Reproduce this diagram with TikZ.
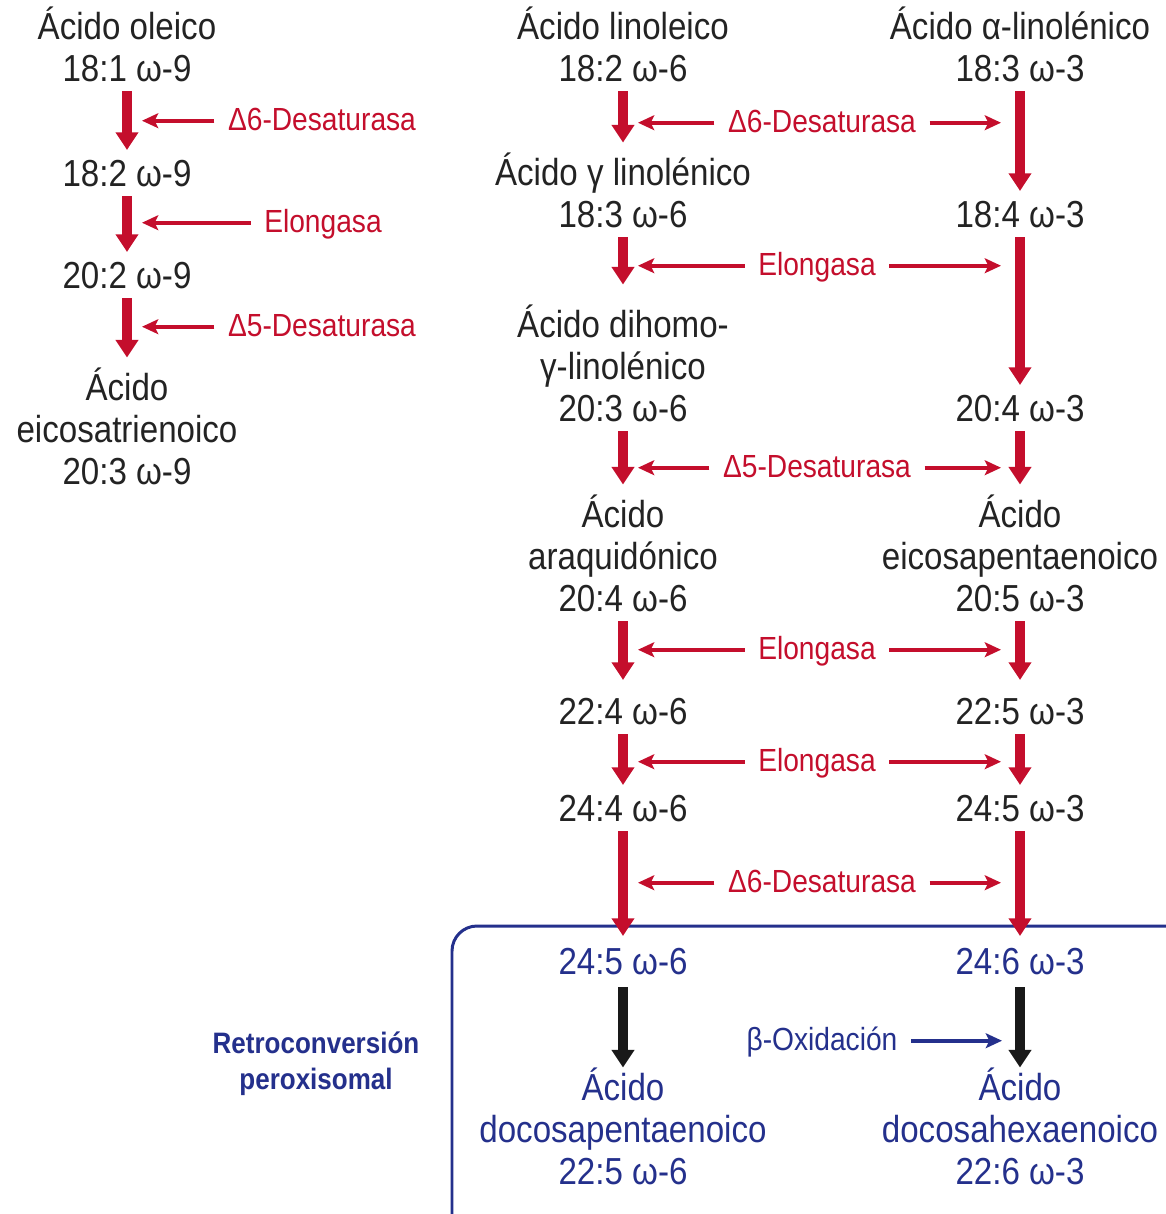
\documentclass[tikz,border=0pt]{standalone}
\usepackage{fontspec}
\setmainfont{Liberation Sans}[FakeStretch=0.88]
\usetikzlibrary{arrows.meta}
\definecolor{redc}{RGB}{196,14,44}
\definecolor{bluec}{RGB}{36,48,140}
\definecolor{txtc}{RGB}{35,35,35}
\definecolor{blkarr}{RGB}{25,25,25}

\begin{document}
\begin{tikzpicture}[x=0.01cm,y=-0.01cm,
  cmp/.style={align=center, inner sep=0pt, anchor=south, text=txtc, font=\fontsize{10.7}{11.95}\selectfont},
  bcmp/.style={cmp, text=bluec},
  enz/.style={text=redc, inner xsep=0.13cm, inner ysep=0pt, anchor=base, font=\fontsize{9.1}{11}\selectfont},
  conv/.style={redc, line width=3.1pt, -{Triangle[width=6.2pt,length=5pt]}, shorten <=0.08cm, shorten >=0.1cm},
  enzarr/.style={redc, line width=1.05pt, -{Stealth[width=4.2pt,length=4.6pt,inset=1pt]}, shorten >=0.15cm}]
\clip (0,0) rectangle (1166,1214);
\fill[white] (0,0) rectangle (1166,1214);
\draw[bluec, line width=0.85pt, rounded corners=0.25cm] (452,926) rectangle (1260,1300);
\node[cmp] (ole) at (127,83) {Ácido oleico\\18:1 ω-9};
\node[cmp] (o182) at (127,188) {18:2 ω-9};
\node[cmp] (o202) at (127,290) {20:2 ω-9};
\node[cmp] (mead) at (127,486) {Ácido\\eicosatrienoico\\20:3 ω-9};
\node[cmp] (lin) at (623,83) {Ácido linoleico\\18:2 ω-6};
\node[cmp] (gla) at (623,229) {Ácido γ linolénico\\18:3 ω-6};
\node[cmp] (dgla) at (623,423) {Ácido dihomo-\\γ-linolénico\\20:3 ω-6};
\node[cmp] (ara) at (623,613) {Ácido\\araquidónico\\20:4 ω-6};
\node[cmp] (m224) at (623,726) {22:4 ω-6};
\node[cmp] (m244) at (623,823) {24:4 ω-6};
\node[bcmp] (m245) at (623,976) {24:5 ω-6};
\node[bcmp] (dpa) at (623,1186) {Ácido\\docosapentaenoico\\22:5 ω-6};
\node[cmp] (ala) at (1020,83) {Ácido α-linolénico\\18:3 ω-3};
\node[cmp] (r184) at (1020,229) {18:4 ω-3};
\node[cmp] (r204) at (1020,423) {20:4 ω-3};
\node[cmp] (epa) at (1020,613) {Ácido\\eicosapentaenoico\\20:5 ω-3};
\node[cmp] (r225) at (1020,726) {22:5 ω-3};
\node[cmp] (r245) at (1020,823) {24:5 ω-3};
\node[bcmp] (r246) at (1020,976) {24:6 ω-3};
\node[bcmp] (dha) at (1020,1186) {Ácido\\docosahexaenoico\\22:6 ω-3};
\node[cmp, text=bluec, font=\bfseries\fontsize{8.4}{10.2}\selectfont] (retro) at (316,1096) {Retroconversión\\peroxisomal};
\draw[conv] (ole) -- (o182);
\draw[conv] (o182) -- (o202);
\draw[conv] (o202) -- (mead);
\draw[conv] (lin) -- (gla);
\draw[conv, shorten >=0.2cm] (gla) -- (dgla);
\draw[conv] (dgla) -- (ara);
\draw[conv, shorten >=0.18cm] (ara) -- (m224);
\draw[conv] (m224) -- (m244);
\draw[conv, shorten >=0.12cm] (m244) -- (m245);
\draw[conv] (ala) -- (r184);
\draw[conv] (r184) -- (r204);
\draw[conv] (r204) -- (epa);
\draw[conv, shorten >=0.18cm] (epa) -- (r225);
\draw[conv] (r225) -- (r245);
\draw[conv, shorten >=0.12cm] (r245) -- (r246);
\draw[conv, blkarr, shorten <=0.11cm, shorten >=0cm] (m245) -- (dpa);
\draw[conv, blkarr, shorten <=0.11cm, shorten >=0cm] (r246) -- (dha);
\node[enz] (ld6) at (322,130) {Δ6-Desaturasa};
\node[enz] (lel) at (323,232) {Elongasa};
\node[enz] (ld5) at (322,336) {Δ5-Desaturasa};
\draw[enzarr] (ld6.mid west) -- (ld6.mid west -| ole);
\draw[enzarr] (lel.mid west) -- (lel.mid west -| ole);
\draw[enzarr] (ld5.mid west) -- (ld5.mid west -| ole);
\node[enz] (e1) at (822,132) {Δ6-Desaturasa};
\node[enz] (e2) at (817,275) {Elongasa};
\node[enz] (e3) at (817,477) {Δ5-Desaturasa};
\node[enz] (e4) at (817,659) {Elongasa};
\node[enz] (e5) at (817,771) {Elongasa};
\node[enz] (e6) at (822,892) {Δ6-Desaturasa};
\foreach \e in {e1,e2,e3,e4,e5,e6}{
  \draw[enzarr] (\e.mid west) -- (\e.mid west -| lin);
  \draw[enzarr, shorten >=0.19cm] (\e.mid east) -- (\e.mid east -| ala);
}
\node[enz, text=bluec] (boxi) at (822,1050) {β-Oxidación};
\draw[enzarr, bluec, shorten >=0.18cm] (boxi.mid east) -- (boxi.mid east -| r246);
\end{tikzpicture}
\end{document}
